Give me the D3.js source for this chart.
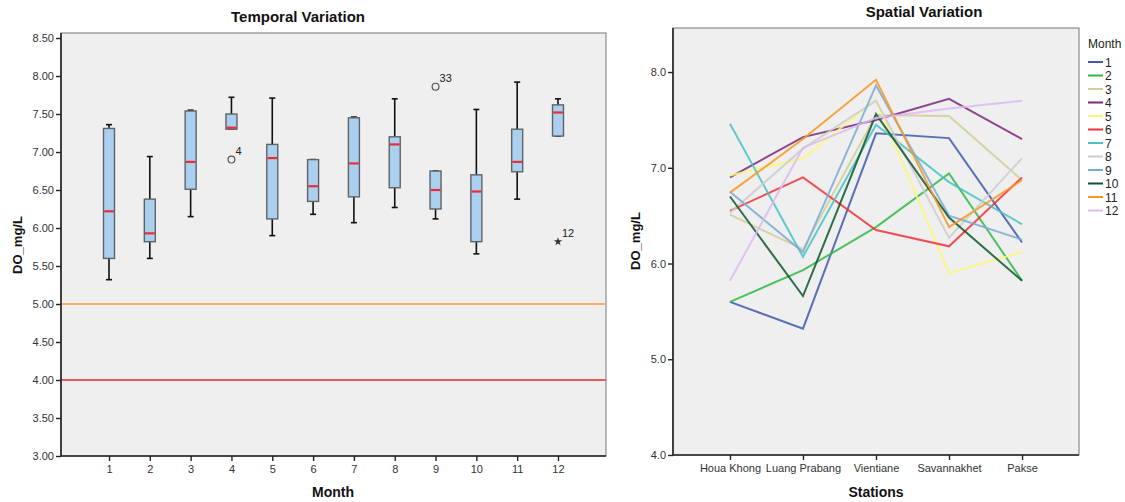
<!DOCTYPE html>
<html>
<head>
<meta charset="utf-8">
<script src="https://cdn.jsdelivr.net/npm/d3@7"></script>
<style>
  html, body { margin: 0; padding: 0; background: #fff; }
  svg { display: block; font-family: "Liberation Sans", Arial, sans-serif; }
</style>
</head>
<body>
<svg id="chart" width="1125" height="502"></svg>
<script>
// Dissolved oxygen (mg/L) per station, one value per month (Jan..Dec)
const months = [1, 2, 3, 4, 5, 6, 7, 8, 9, 10, 11, 12];
const stations = ["Houa Khong", "Luang Prabang", "Vientiane", "Savannakhet", "Pakse"];
const houaKhong    = [5.60, 5.60, 6.51, 6.90, 6.92, 6.55, 7.46, 6.53, 6.75, 6.70, 6.74, 5.82];
const luangPrabang = [5.32, 5.93, 6.15, 7.32, 7.10, 6.90, 6.07, 7.20, 6.12, 5.66, 7.30, 7.21];
const vientiane    = [7.36, 6.38, 7.55, 7.50, 7.71, 6.35, 7.45, 7.70, 7.86, 7.56, 7.92, 7.52];
const savannakhet  = [7.31, 6.94, 7.54, 7.72, 5.90, 6.18, 6.85, 6.27, 6.50, 6.48, 6.38, 7.62];
const pakse        = [6.22, 5.82, 6.87, 7.30, 6.12, 6.90, 6.41, 7.10, 6.25, 5.82, 6.87, 7.70];

// Standard limits drawn as horizontal reference lines
const limitValues = [5, 4];
const limitColors = ["#f6b264", "#e9585d"];

// Axis tick labels
const temporalTicks = [3.0, 3.5, 4.0, 4.5, 5.0, 5.5, 6.0, 6.5, 7.0, 7.5, 8.0, 8.5];
const spatialTicks = [4.0, 5.0, 6.0, 7.0, 8.0];

// Month line colours
const monthColors = ["#3e58ac", "#2eb848", "#d3ce97", "#7c287d", "#fbf873", "#ef3338",
                     "#48c2c5", "#cccccc", "#7aaad5", "#0a562c", "#f8961f", "#ddbaf1"];

const stationSeries = [houaKhong, luangPrabang, vientiane, savannakhet, pakse];

const svg = d3.select("#chart");
const plotBg = "#efefef";

// ---------- Temporal Variation (box plots by month) ----------
const L = { x0: 61, x1: 606, y0: 33, y1: 456 };
const xMonth = d3.scalePoint().domain(months).range([L.x0, L.x1]).padding(1.176);
const yLeft = d3.scaleLinear().domain([3, 8.566]).range([L.y1, L.y0]);

const left = svg.append("g");
left.append("rect").attr("x", L.x0).attr("y", L.y0)
  .attr("width", L.x1 - L.x0).attr("height", L.y1 - L.y0)
  .attr("fill", plotBg).attr("stroke", "#777").attr("stroke-width", 1);

// reference limits
left.selectAll("line.limit").data(limitValues).join("line")
  .attr("class", "limit")
  .attr("x1", L.x0).attr("x2", L.x1)
  .attr("y1", d => yLeft(d)).attr("y2", d => yLeft(d))
  .attr("stroke", (d, i) => limitColors[i]).attr("stroke-width", 2);

// box statistics (Tukey hinges, 1.5/3 IQR fences)
const boxStats = months.map((m, mi) => {
  const vals = stationSeries.map((s, si) => ({ v: s[mi], caseNo: si * 12 + m }));
  const sorted = vals.map(d => d.v).sort(d3.ascending);
  const q1 = d3.quantile(sorted, 0.25), med = d3.quantile(sorted, 0.5), q3 = d3.quantile(sorted, 0.75);
  const iqr = q3 - q1;
  const lo = q1 - 1.5 * iqr, hi = q3 + 1.5 * iqr;
  const inside = sorted.filter(v => v >= lo - 1e-9 && v <= hi + 1e-9);
  const outliers = vals.filter(d => d.v < lo - 1e-9 || d.v > hi + 1e-9)
    .map(d => ({ ...d, extreme: d.v < q1 - 3 * iqr || d.v > q3 + 3 * iqr }));
  return { m, q1, med, q3, wLo: d3.min(inside), wHi: d3.max(inside), outliers };
});

const boxW = 11, capW = 6;
const boxes = left.selectAll("g.box").data(boxStats).join("g").attr("class", "box")
  .attr("transform", d => `translate(${xMonth(d.m)},0)`);

boxes.append("line").attr("x1", 0).attr("x2", 0)
  .attr("y1", d => yLeft(d.wLo)).attr("y2", d => yLeft(d.q1))
  .attr("stroke", "#111").attr("stroke-width", 1.6);
boxes.append("line").attr("x1", 0).attr("x2", 0)
  .attr("y1", d => yLeft(d.q3)).attr("y2", d => yLeft(d.wHi))
  .attr("stroke", "#111").attr("stroke-width", 1.6);
boxes.append("line").attr("x1", -capW / 2).attr("x2", capW / 2)
  .attr("y1", d => yLeft(d.wLo)).attr("y2", d => yLeft(d.wLo))
  .attr("stroke", "#111").attr("stroke-width", 1.6);
boxes.append("line").attr("x1", -capW / 2).attr("x2", capW / 2)
  .attr("y1", d => yLeft(d.wHi)).attr("y2", d => yLeft(d.wHi))
  .attr("stroke", "#111").attr("stroke-width", 1.6);
boxes.append("rect").attr("x", -boxW / 2).attr("width", boxW)
  .attr("y", d => yLeft(d.q3)).attr("height", d => yLeft(d.q1) - yLeft(d.q3))
  .attr("fill", "#abcfee").attr("stroke", "#5f6366").attr("stroke-width", 1.4);
boxes.append("line").attr("x1", -boxW / 2 + 0.7).attr("x2", boxW / 2 - 0.7)
  .attr("y1", d => yLeft(d.med)).attr("y2", d => yLeft(d.med))
  .attr("stroke", "#ee2b35").attr("stroke-width", 2.2);

// outliers (circle) and extremes (star) with case numbers
boxes.each(function (d) {
  const g = d3.select(this);
  d.outliers.forEach(o => {
    const cy = yLeft(o.v);
    if (o.extreme) {
      g.append("path").attr("d", d3.symbol(d3.symbolStar, 22)())
        .attr("transform", `translate(0,${cy})`).attr("fill", "#333");
    } else {
      g.append("circle").attr("cx", 0).attr("cy", cy).attr("r", 3.4)
        .attr("fill", "none").attr("stroke", "#555").attr("stroke-width", 1.2);
    }
    g.append("text").attr("x", 4).attr("y", cy - 5)
      .attr("font-size", 11).attr("fill", "#222").text(o.caseNo);
  });
});

// axes
const leftYAxis = left.append("g").attr("transform", `translate(${L.x0},0)`)
  .call(d3.axisLeft(yLeft).tickValues(temporalTicks).tickFormat(d3.format(".2f")).tickSize(5).tickPadding(2));
const leftXAxis = left.append("g").attr("transform", `translate(0,${L.y1})`)
  .call(d3.axisBottom(xMonth).tickSize(5).tickPadding(4));
[leftYAxis, leftXAxis].forEach(a => {
  a.select(".domain").remove();
  a.selectAll(".tick line").attr("stroke", "#222").attr("stroke-width", 1.4);
  a.selectAll(".tick text").attr("font-size", 11).attr("fill", "#333")
    .attr("font-family", "'Liberation Sans', Arial, sans-serif");
});
left.append("line").attr("x1", L.x0).attr("x2", L.x0).attr("y1", L.y0).attr("y2", L.y1)
  .attr("stroke", "#222").attr("stroke-width", 1.6);
left.append("line").attr("x1", L.x0).attr("x2", L.x1).attr("y1", L.y1).attr("y2", L.y1)
  .attr("stroke", "#222").attr("stroke-width", 1.6);

left.append("text").attr("x", 298).attr("y", 22).attr("text-anchor", "middle")
  .attr("font-size", 15).attr("font-weight", "bold").attr("fill", "#111").text("Temporal Variation");
left.append("text").attr("x", 333).attr("y", 497).attr("text-anchor", "middle")
  .attr("font-size", 14).attr("font-weight", "bold").attr("fill", "#111").text("Month");
left.append("text").attr("transform", "translate(22,245) rotate(-90)").attr("text-anchor", "middle")
  .attr("font-size", 13).attr("font-weight", "bold").attr("fill", "#111").text("DO_mg/L");

// ---------- Spatial Variation (lines by month across stations) ----------
const R = { x0: 673, x1: 1079, y0: 28, y1: 455 };
const xStation = d3.scalePoint().domain(stations).range([R.x0, R.x1]).padding(0.78);
const yRight = d3.scaleLinear().domain([4, 8.46]).range([R.y1, R.y0]);

const right = svg.append("g");
right.append("rect").attr("x", R.x0).attr("y", R.y0)
  .attr("width", R.x1 - R.x0).attr("height", R.y1 - R.y0)
  .attr("fill", plotBg).attr("stroke", "#777").attr("stroke-width", 1);

const lineGen = d3.line().x(d => xStation(d.station)).y(d => yRight(d.v));
const monthLines = months.map((m, mi) => ({
  m, color: monthColors[mi],
  pts: stations.map((s, si) => ({ station: s, v: stationSeries[si][mi] }))
}));
right.selectAll("path.month").data(monthLines).join("path")
  .attr("class", "month")
  .attr("d", d => lineGen(d.pts))
  .attr("fill", "none").attr("stroke", d => d.color)
  .attr("stroke-width", 2).attr("stroke-opacity", 0.85).attr("stroke-linejoin", "miter");

const rightYAxis = right.append("g").attr("transform", `translate(${R.x0},0)`)
  .call(d3.axisLeft(yRight).tickValues(spatialTicks).tickFormat(d3.format(".1f")).tickSize(5).tickPadding(2));
const rightXAxis = right.append("g").attr("transform", `translate(0,${R.y1})`)
  .call(d3.axisBottom(xStation).tickSize(5).tickPadding(4));
[rightYAxis, rightXAxis].forEach(a => {
  a.select(".domain").remove();
  a.selectAll(".tick line").attr("stroke", "#222").attr("stroke-width", 1.4);
  a.selectAll(".tick text").attr("font-size", 11).attr("fill", "#333")
    .attr("font-family", "'Liberation Sans', Arial, sans-serif");
});
right.append("line").attr("x1", R.x0).attr("x2", R.x0).attr("y1", R.y0).attr("y2", R.y1)
  .attr("stroke", "#222").attr("stroke-width", 1.6);
right.append("line").attr("x1", R.x0).attr("x2", R.x1).attr("y1", R.y1).attr("y2", R.y1)
  .attr("stroke", "#222").attr("stroke-width", 1.6);

right.append("text").attr("x", 924).attr("y", 17).attr("text-anchor", "middle")
  .attr("font-size", 15).attr("font-weight", "bold").attr("fill", "#111").text("Spatial Variation");
right.append("text").attr("x", 876).attr("y", 497).attr("text-anchor", "middle")
  .attr("font-size", 14).attr("font-weight", "bold").attr("fill", "#111").text("Stations");
right.append("text").attr("transform", "translate(640,241) rotate(-90)").attr("text-anchor", "middle")
  .attr("font-size", 13).attr("font-weight", "bold").attr("fill", "#111").text("DO_mg/L");

// legend
const legend = right.append("g").attr("transform", "translate(1088,0)");
legend.append("text").attr("x", 0).attr("y", 48).attr("font-size", 12).attr("fill", "#222").text("Month");
const items = legend.selectAll("g.item").data(monthLines).join("g").attr("class", "item")
  .attr("transform", (d, i) => `translate(0,${62 + i * 13.5})`);
items.append("line").attr("x1", 0).attr("x2", 15).attr("y1", 0).attr("y2", 0)
  .attr("stroke", d => d.color).attr("stroke-width", 2);
items.append("text").attr("x", 17).attr("y", 4.5).attr("font-size", 12).attr("fill", "#222").text(d => d.m);
</script>
</body>
</html>
